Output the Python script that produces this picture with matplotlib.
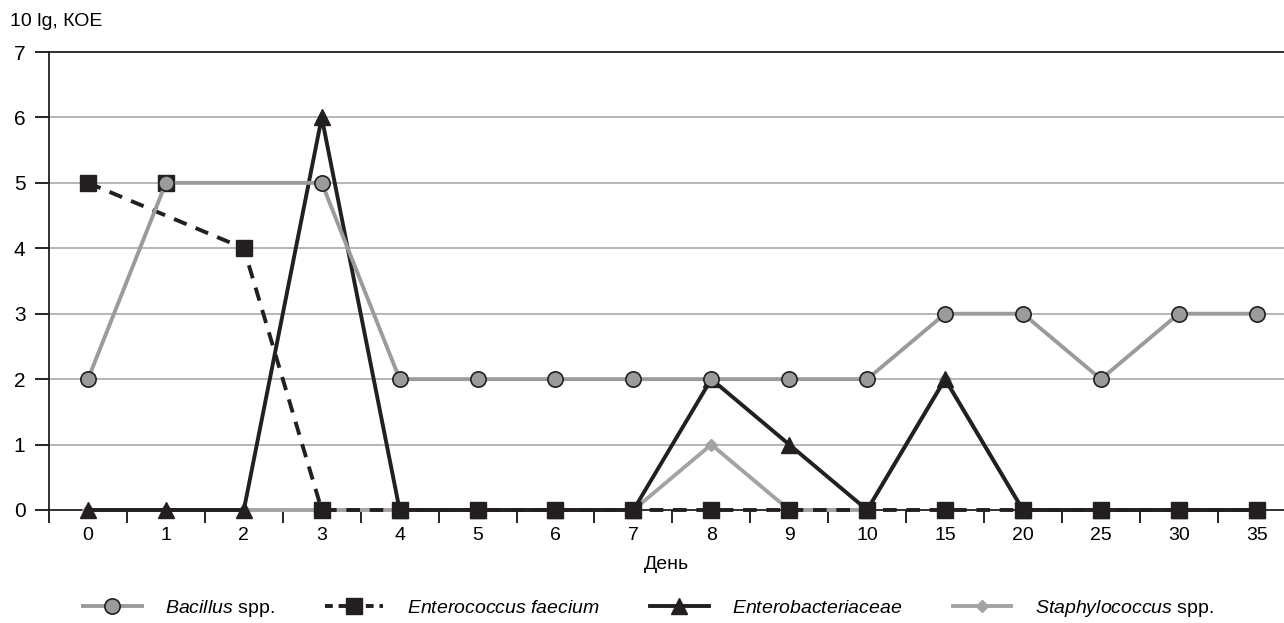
import numpy as np
import matplotlib
matplotlib.use("Agg")
import matplotlib.pyplot as plt

plt.rcParams['font.family'] = ['Liberation Sans Narrow', 'Liberation Sans', 'DejaVu Sans']
plt.rcParams['mathtext.fontset'] = 'custom'
plt.rcParams['mathtext.it'] = 'Liberation Sans:italic'
plt.rcParams['mathtext.rm'] = 'Liberation Sans'

# days (categorical axis)
days = ['0', '1', '2', '3', '4', '5', '6', '7', '8', '9', '10', '15', '20', '25', '30', '35']

# NaN = no marker at that day (line passes through)
bacillus = [2, 5, np.nan, 5, 2, 2, 2, 2, 2, 2, 2, 3, 3, 2, 3, 3]
enterococcus = [5, 5, 4, 0, 0, 0, 0, 0, 0, 0, 0, 0, 0, 0, 0, 0]
# the dashed line skips day 1 (only a marker there)
enterococcus_line = [True, False] + [True] * 14
enterobact = [0, 0, 0, 6, 0, 0, 0, 0, 2, 1, 0, 2, 0, 0, 0, 0]
staph = [0, 0, 0, 0, 0, 0, 0, 0, 1, 0, 0, 2, 0, 0, 0, 0]

x = np.arange(len(days))
mask = np.array(enterococcus_line)
bac = np.array(bacillus, dtype=float)
bok = ~np.isnan(bac)

fig = plt.figure(figsize=(12.84, 6.23), dpi=100)
ax = fig.add_axes([0.0382, 0.1814, 0.9618, 0.7351])

ax.plot(x, staph, color='#a3a3a3', lw=2.8, marker='D', ms=6,
        mfc='#a3a3a3', mec='#a3a3a3', zorder=3, clip_on=False)
ax.plot(x, enterobact, color='#231f20', lw=2.8, marker='^', ms=11,
        mfc='#231f20', mec='#231f20', zorder=4, clip_on=False)
ax.plot(x[mask], np.array(enterococcus)[mask], color='#231f20', lw=2.8,
        ls=(0, (3.5, 2.5)), zorder=5, clip_on=False)
ax.plot(x, enterococcus, ls='none', marker='s', ms=12,
        mfc='#231f20', mec='#231f20', zorder=5, clip_on=False)
ax.plot(x[bok], bac[bok], color='#9b9b9b', lw=2.8, marker='o', ms=11,
        mfc='#9b9b9b', mec='#231f20', mew=1.2, zorder=6, clip_on=False)

ax.set_xlim(-0.5, 15.35)
ax.set_ylim(0, 7)
ax.set_yticks(range(8))
ax.set_xticks(x)
ax.set_xticklabels(days)
ax.set_xticks(np.arange(-0.5, 15.5, 1), minor=True)
ax.tick_params(axis='x', which='major', length=0, pad=12, labelsize=14)
ax.tick_params(axis='x', which='minor', length=9, width=1.2, direction='out')
ax.tick_params(axis='y', length=10, width=1.2, pad=7, labelsize=15)

for v in range(1, 7):
    ax.axhline(v, color='#b5b5b5', lw=1.4, zorder=1)

ax.spines['right'].set_visible(False)
for s in ['left', 'bottom', 'top']:
    ax.spines[s].set_linewidth(1.3)
    ax.spines[s].set_color('#231f20')

ax.set_xlabel('День', fontsize=14, labelpad=9)
fig.text(0.008, 0.966, '10 lg, КОЕ', fontsize=14, va='center')

h1, = ax.plot([], [], color='#9b9b9b', lw=2.8, marker='o', ms=11,
              mfc='#9b9b9b', mec='#231f20', mew=1.2)
h2, = ax.plot([], [], color='#231f20', lw=2.8, ls=(0, (2, 1.5)), marker='s', ms=12)
h3, = ax.plot([], [], color='#231f20', lw=2.8, marker='^', ms=11)
h4, = ax.plot([], [], color='#a3a3a3', lw=2.8, marker='D', ms=6)
fig.legend([h1, h2, h3, h4],
           [r'$\it{Bacillus}$ spp.', r'$\it{Enterococcus\ faecium}$',
            r'$\it{Enterobacteriaceae}$', r'$\it{Staphylococcus}$ spp.'],
           loc='center', bbox_to_anchor=(0.505, 0.024), ncol=4, frameon=False,
           fontsize=14, handlelength=3.0, columnspacing=2.6, handletextpad=1.2)

fig.savefig('out.png', dpi=100)
